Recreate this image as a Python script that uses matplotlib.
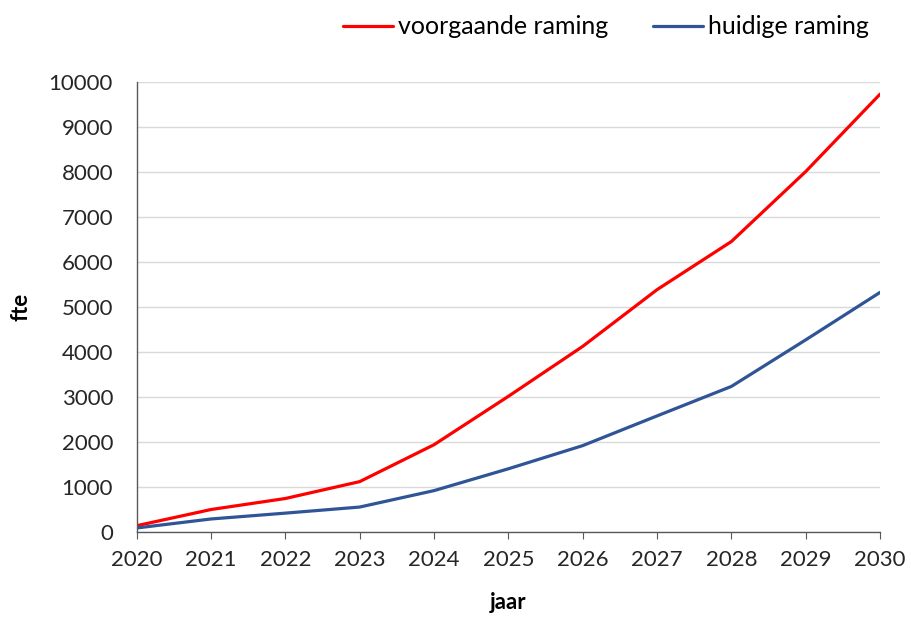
import matplotlib.pyplot as plt

plt.rcParams['font.family'] = ['Lato', 'DejaVu Sans']

jaren = [2020, 2021, 2022, 2023, 2024, 2025, 2026, 2027, 2028, 2029, 2030]
voorgaand = [140, 500, 745, 1120, 1940, 3015, 4125, 5385, 6455, 8010, 9730]
huidig = [90, 290, 420, 555, 920, 1405, 1920, 2580, 3235, 4270, 5325]

fig = plt.figure(figsize=(9.11, 6.19), dpi=100)
ax = fig.add_axes([0.150, 0.1405, 0.816, 0.727])

ax.plot(jaren, voorgaand, color='#FF0000', lw=2.3, label='voorgaande raming', solid_capstyle='round')
ax.plot(jaren, huidig, color='#2F5597', lw=2.3, label='huidige raming', solid_capstyle='round')

ax.set_xlim(2020, 2030)
ax.set_ylim(0, 10000)
ax.set_xticks(jaren)
ax.set_yticks(range(0, 10001, 1000))
ax.grid(axis='y', color='#D9D9D9', lw=1)
ax.set_axisbelow(True)
for s in ['top', 'right']:
    ax.spines[s].set_visible(False)
for s in ['left', 'bottom']:
    ax.spines[s].set_color('#595959')
    ax.spines[s].set_linewidth(1)
ax.tick_params(axis='x', length=5, color='#595959', labelsize=16, labelcolor='#262626', pad=8)
ax.tick_params(axis='y', length=0, labelsize=16, labelcolor='#262626', pad=17)

ax.set_xlabel('jaar', fontsize=16, fontweight='bold', labelpad=16)
ax.set_ylabel('fte', fontsize=16, fontweight='bold', labelpad=12)

fig.legend(*ax.get_legend_handles_labels(), loc='center left',
           bbox_to_anchor=(343 / 911, 1 - 27 / 619), bbox_transform=fig.transFigure,
           ncol=2, frameon=False, fontsize=18, handlelength=2.0, handletextpad=0.2,
           columnspacing=1.8, borderpad=0, borderaxespad=0)

fig.savefig('out.png', dpi=100)
